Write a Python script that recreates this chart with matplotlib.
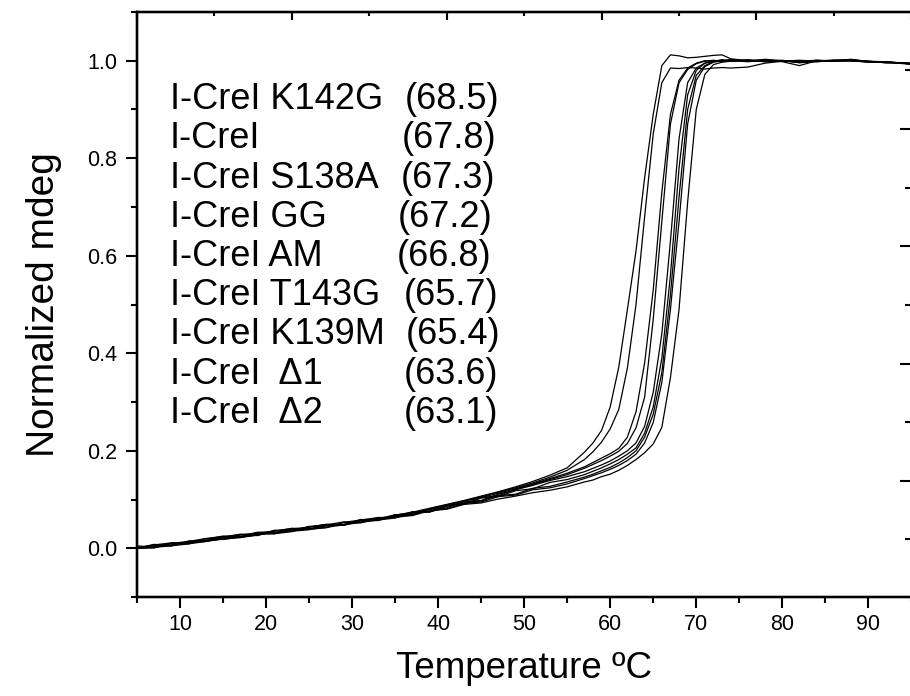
import numpy as np
import matplotlib
matplotlib.use("Agg")
import matplotlib.pyplot as plt
from matplotlib.ticker import FixedLocator, MultipleLocator

plt.rcParams['font.family'] = ['Liberation Sans', 'DejaVu Sans']

# temperature grid (deg C)
temp = [5, 7, 9, 11, 13, 15, 17, 19, 21, 23, 25, 27, 29, 31, 33, 35, 37, 39, 41, 43, 45,
        47, 49, 51, 53, 55, 57, 58, 59, 60, 61, 62, 63, 64, 65, 66, 67, 68, 69, 70, 71,
        72, 73, 74, 76, 78, 80, 82, 84, 86, 88, 90, 92, 94, 95]

# normalized signal, one list per protein
k142g = [0.000, 0.003, 0.007, 0.012, 0.016, 0.024, 0.022, 0.031, 0.030, 0.040, 0.039, 0.048, 0.047,
         0.056, 0.057, 0.066, 0.067, 0.077, 0.080, 0.090, 0.093, 0.101, 0.107, 0.114, 0.119,
         0.126, 0.136, 0.140, 0.147, 0.152, 0.160, 0.170, 0.182, 0.196, 0.214, 0.248, 0.35, 0.49,
         0.71, 0.90, 0.972, 0.992, 0.997, 0.999, 1.001, 0.998, 1.000, 0.996, 0.999, 1.001, 1.002,
         0.998, 0.997, 0.995, 0.994]
crei = [0.002, 0.006, 0.006, 0.013, 0.016, 0.023, 0.024, 0.030, 0.032, 0.038, 0.040, 0.046, 0.049,
        0.056, 0.059, 0.066, 0.068, 0.080, 0.081, 0.092, 0.095, 0.106, 0.109, 0.120, 0.124,
        0.132, 0.143, 0.149, 0.155, 0.162, 0.170, 0.180, 0.193, 0.216, 0.258, 0.34, 0.49, 0.67,
        0.87, 0.96, 0.988, 0.997, 1.000, 1.002, 0.999, 1.001, 0.999, 0.998, 1.000, 0.999, 1.001,
        0.999, 0.996, 0.996, 0.995]
s138a = [0.000, 0.007, 0.005, 0.015, 0.014, 0.022, 0.029, 0.028, 0.030, 0.040, 0.043, 0.049, 0.047,
         0.058, 0.057, 0.068, 0.073, 0.074, 0.086, 0.093, 0.097, 0.108, 0.111, 0.123, 0.127,
         0.136, 0.146, 0.152, 0.159, 0.166, 0.175, 0.186, 0.200, 0.228, 0.275, 0.36, 0.52, 0.72,
         0.90, 0.97, 0.990, 0.998, 1.001, 0.999, 1.002, 1.000, 0.998, 0.990, 1.000, 1.001, 1.000,
         0.997, 0.998, 0.994, 0.993]
gg = [0.001, 0.002, 0.011, 0.010, 0.019, 0.025, 0.023, 0.027, 0.037, 0.035, 0.038, 0.048, 0.054,
      0.053, 0.058, 0.068, 0.074, 0.075, 0.088, 0.090, 0.103, 0.106, 0.118, 0.122, 0.135,
      0.141, 0.151, 0.158, 0.165, 0.173, 0.182, 0.193, 0.206, 0.236, 0.290, 0.39, 0.56, 0.78,
      0.93, 0.98, 0.995, 1.000, 0.998, 1.001, 0.999, 1.003, 1.000, 0.998, 0.999, 1.000, 1.003,
      0.998, 0.997, 0.995, 0.993]
am = [0.000, 0.001, 0.010, 0.009, 0.014, 0.019, 0.022, 0.033, 0.031, 0.036, 0.045, 0.043, 0.048,
      0.058, 0.063, 0.063, 0.068, 0.081, 0.087, 0.095, 0.098, 0.111, 0.120, 0.129, 0.139,
      0.147, 0.157, 0.164, 0.171, 0.179, 0.189, 0.200, 0.216, 0.250, 0.320, 0.44, 0.63, 0.84,
      0.955, 0.985, 0.995, 0.999, 1.002, 1.000, 0.998, 1.001, 1.000, 0.997, 1.001, 0.999, 1.001,
      0.999, 0.996, 0.996, 0.994]
t143g = [0.005, 0.002, 0.005, 0.014, 0.020, 0.018, 0.023, 0.032, 0.035, 0.041, 0.039, 0.043, 0.053,
         0.052, 0.063, 0.063, 0.075, 0.075, 0.083, 0.096, 0.104, 0.108, 0.121, 0.131, 0.141,
         0.151, 0.164, 0.172, 0.180, 0.189, 0.199, 0.215, 0.247, 0.310, 0.470, 0.67, 0.87, 0.955,
         0.982, 0.994, 0.999, 1.001, 0.999, 1.002, 1.000, 0.999, 1.001, 0.996, 0.998, 1.000, 1.002,
         0.999, 0.998, 0.995, 0.994]
k139m = [0.000, 0.007, 0.011, 0.011, 0.014, 0.024, 0.028, 0.026, 0.036, 0.035, 0.044, 0.049, 0.048,
         0.059, 0.058, 0.069, 0.069, 0.080, 0.088, 0.091, 0.104, 0.113, 0.122, 0.132, 0.143,
         0.154, 0.167, 0.176, 0.185, 0.194, 0.205, 0.228, 0.28, 0.38, 0.53, 0.73, 0.89, 0.96,
         0.985, 0.995, 1.000, 0.999, 1.001, 1.000, 1.001, 0.998, 1.000, 0.999, 1.001, 0.999, 1.000,
         0.998, 0.997, 0.996, 0.994]
delta1 = [0.001, 0.001, 0.010, 0.014, 0.015, 0.019, 0.027, 0.032, 0.030, 0.034, 0.044, 0.048, 0.048,
          0.053, 0.061, 0.068, 0.071, 0.081, 0.089, 0.097, 0.106, 0.115, 0.124, 0.134, 0.146,
          0.160, 0.182, 0.198, 0.218, 0.245, 0.285, 0.37, 0.50, 0.68, 0.85, 0.955, 0.985, 0.984,
          0.986, 0.985, 0.983, 0.985, 0.986, 0.985, 0.987, 0.995, 0.999, 1.000, 0.998, 1.001, 0.999,
          0.998, 0.996, 0.995, 0.993]
delta2 = [0.000, 0.008, 0.005, 0.009, 0.020, 0.024, 0.022, 0.027, 0.036, 0.040, 0.039, 0.042, 0.053,
          0.058, 0.058, 0.062, 0.074, 0.082, 0.090, 0.098, 0.107, 0.116, 0.126, 0.137, 0.150,
          0.165, 0.197, 0.216, 0.242, 0.290, 0.372, 0.49, 0.61, 0.76, 0.89, 0.99, 1.012, 1.010,
          1.006, 1.007, 1.009, 1.011, 1.012, 1.004, 1.000, 1.001, 0.999, 1.001, 0.999, 1.000, 1.002,
          0.997, 0.998, 0.995, 0.993]

names = ['I-CreI K142G', 'I-CreI', 'I-CreI S138A', 'I-CreI GG', 'I-CreI AM',
         'I-CreI T143G', 'I-CreI K139M', 'I-CreI  \u03941', 'I-CreI  \u03942']
tms = ['(68.5)', '(67.8)', '(67.3)', '(67.2)', '(66.8)', '(65.7)', '(65.4)', '(63.6)', '(63.1)']
curves = [k142g, crei, s138a, gg, am, t143g, k139m, delta1, delta2]

fig = plt.figure(figsize=(9.1, 6.96), dpi=100)
ax = fig.add_axes([0.1505, 0.1422, 0.8510, 0.8406])

for c in curves:
    ax.plot(temp, c, color='black', linewidth=0.9)

ax.set_xlim(5, 95)
ax.set_ylim(-0.1, 1.1)
ax.xaxis.set_major_locator(FixedLocator([10, 20, 30, 40, 50, 60, 70, 80, 90]))
ax.xaxis.set_minor_locator(MultipleLocator(5))
ax.yaxis.set_major_locator(FixedLocator([0.0, 0.2, 0.4, 0.6, 0.8, 1.0]))
ax.yaxis.set_minor_locator(MultipleLocator(0.1))
ax.tick_params(which='major', direction='out', length=8, width=1.5, labelsize=15.5)
ax.tick_params(which='minor', direction='out', length=4, width=1.5)
ax.tick_params(axis='x', which='major', pad=4)
ax.tick_params(axis='y', which='major', pad=6)
for s in ax.spines.values():
    s.set_linewidth(1.6)

ax.set_xlabel('Temperature \u00baC', fontsize=26.5, labelpad=12)
ax.set_ylabel('Normalized mdeg', fontsize=28, labelpad=18)

# top and right axes carry their own inward ticks, no labels
top = ax.twiny()
top.set_xlim(5, 95)
top.xaxis.set_major_locator(FixedLocator([5, 23, 41, 59, 77, 95]))
top.xaxis.set_minor_locator(FixedLocator([14, 32, 50, 68, 86]))
top.tick_params(which='major', direction='in', length=6, width=1.5, labeltop=False)
top.tick_params(which='minor', direction='in', length=3, width=1.5)

right = ax.twinx()
right.set_ylim(-0.1, 1.1)
rt = [0.018 + 0.1203 * k for k in range(9)]
right.yaxis.set_major_locator(FixedLocator(rt[1::2]))
right.yaxis.set_minor_locator(FixedLocator(rt[0::2]))
right.tick_params(which='major', direction='in', length=8, width=1.5, labelright=False)
right.tick_params(which='minor', direction='in', length=4, width=1.5)
for a in (top, right):
    for s in a.spines.values():
        s.set_linewidth(1.6)

# legend block written as text
val_x = [36.1, 35.8, 35.7, 35.3, 35.2, 36.0, 36.2, 36.0, 36.0]
for i, (n, t) in enumerate(zip(names, tms)):
    y = 0.920 - i * 0.0804
    ax.text(8.8, y, n, fontsize=26, ha='left', va='center')
    ax.text(val_x[i], y, t, fontsize=26, ha='left', va='center')

fig.savefig('out.png', dpi=100)
